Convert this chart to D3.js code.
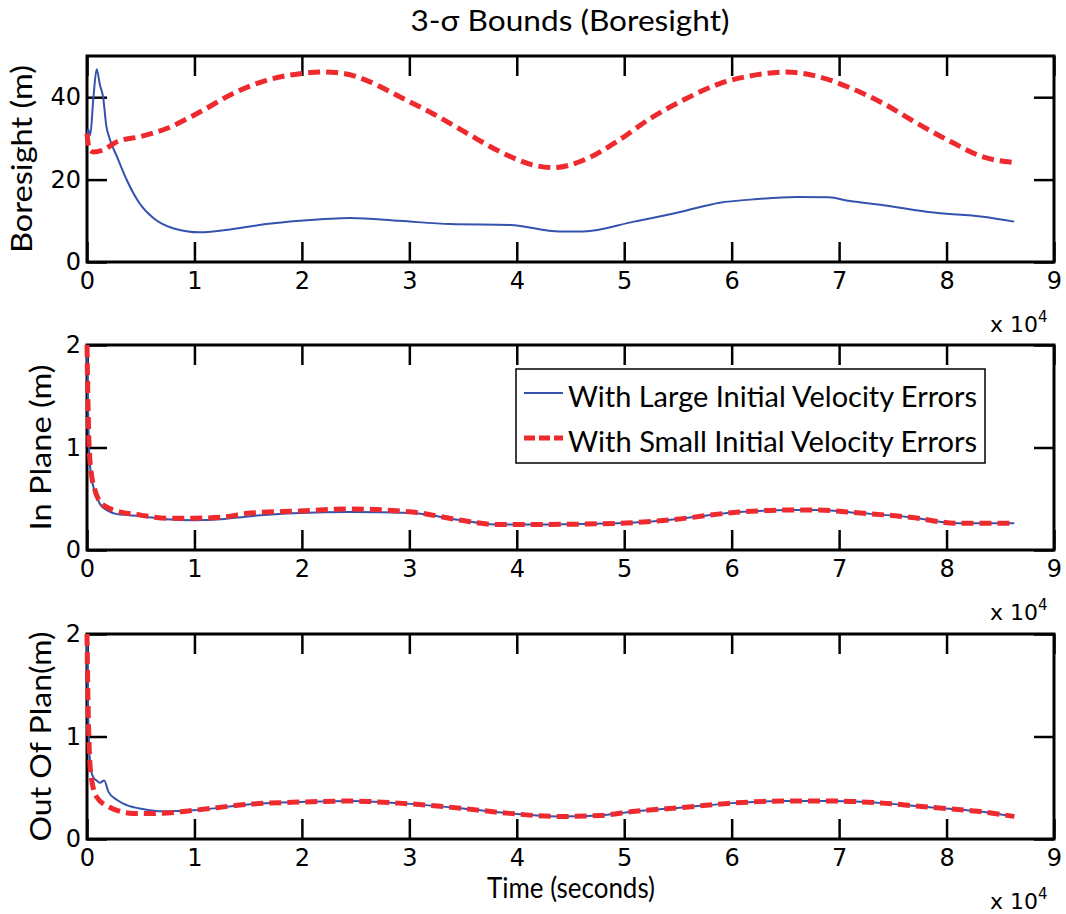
<!DOCTYPE html>
<html><head><meta charset="utf-8">
<script src="https://cdn.jsdelivr.net/npm/d3@7"></script>
<style>body{margin:0;background:#fff}</style>
</head><body>
<svg id="c" width="1066" height="914"></svg>
<script>
// ---- data (time in units of 1e4 seconds) ----
const xTickValues = [0,1,2,3,4,5,6,7,8,9];
const titleText = "3-\u03c3 Bounds (Boresight)";
const xLabelText = "Time (seconds)";
const seriesNames = ["With Large Initial Velocity Errors", "With Small Initial Velocity Errors"];

const boreLargeT = [0,0.01,0.03,0.06,0.09,0.12,0.15,0.18,0.21,0.28,0.37,0.49,0.62,0.8,1.05,1.36,1.67,1.98,2.45,2.91,3.38,3.94,4.4,4.62,5.09,5.5,5.89,6.2,6.6,6.9,7.1,7.41,7.88,8.34,8.63];
const boreLargeV = [30.4,32.2,30.8,40,46.8,43,40,33,30,25.5,19.9,14.2,10.6,8.2,7.2,8.0,9.2,10.0,10.7,10.0,9.2,9.0,7.4,7.4,9.8,12,14.4,15.2,15.8,15.7,14.8,13.8,12.0,11.0,9.8];
const boreSmallT = [0,0.02,0.06,0.15,0.28,0.49,0.74,1.05,1.36,1.67,1.98,2.2,2.4,2.6,2.91,3.22,3.54,3.85,4.16,4.34,4.62,4.93,5.24,5.55,5.89,6.2,6.51,6.79,7.1,7.41,7.73,8.04,8.34,8.61];
const boreSmallV = [31.2,27.5,26.7,27.2,29.2,30.4,32.4,36.4,40.9,44.1,45.7,46.1,45.7,44.1,40.1,36.0,31.2,26.7,23.5,22.9,24.7,29.2,34.8,39.3,43.3,45.3,46.1,45.1,42.3,38.5,33.6,29.2,25.5,24.2];

const inPlaneT = [0,0.01,0.02,0.04,0.07,0.12,0.2,0.28,0.5,0.74,0.99,1.25,1.52,1.98,2.44,3.03,3.48,3.8,4.3,4.93,5.39,6.07,6.53,6.8,7.2,7.66,8.11,8.63];
const inPlaneLargeV = [2.0,1.4,0.95,0.72,0.58,0.45,0.38,0.35,0.33,0.30,0.29,0.30,0.33,0.36,0.37,0.36,0.29,0.25,0.25,0.26,0.29,0.37,0.39,0.39,0.36,0.32,0.26,0.26];
const inPlaneSmallV = [2.0,1.4,1.0,0.75,0.6,0.47,0.41,0.38,0.34,0.31,0.31,0.32,0.36,0.38,0.40,0.37,0.29,0.25,0.25,0.26,0.29,0.37,0.39,0.39,0.36,0.32,0.26,0.26];

const outPlaneLargeT = [0,0.01,0.02,0.04,0.06,0.09,0.12,0.16,0.2,0.28,0.37,0.53,0.7,0.99,1.52,1.98,2.44,2.9,3.48,3.93,4.38,4.78,5.1,5.57,6.0,6.48,6.95,7.4,7.84,8.29,8.63];
const outPlaneLargeV = [2.0,1.3,0.9,0.66,0.6,0.57,0.55,0.57,0.46,0.38,0.33,0.29,0.27,0.28,0.34,0.36,0.37,0.35,0.30,0.25,0.22,0.23,0.27,0.31,0.35,0.37,0.37,0.35,0.31,0.27,0.22];
const outPlaneSmallT = [0,0.01,0.02,0.04,0.09,0.21,0.43,0.68,0.99,1.52,1.98,2.44,2.9,3.48,3.93,4.38,4.78,5.1,5.57,6.0,6.48,6.95,7.4,7.84,8.29,8.63];
const outPlaneSmallV = [2.0,1.3,0.9,0.6,0.41,0.31,0.25,0.25,0.28,0.34,0.36,0.37,0.35,0.30,0.25,0.22,0.23,0.27,0.31,0.35,0.37,0.37,0.35,0.31,0.27,0.22];

const panelLabels = ["Boresight (m)", "In Plane (m)", "Out Of Plan(m)"];
const panelYMax = [50, 2, 2];
const panelYTicks = [[0,20,40],[0,1,2],[0,1,2]];

// ---- layout ----
const LEFT = 87, RIGHT = 1054;
const panelBox = [[56,262],[345,550],[634,839]];
const blue = "#3452ae", red = "#ee2a2e";
const labelFont = "Lato, 'Open Sans', sans-serif";
const tickFont = "'DejaVu Sans', sans-serif";

const svg = d3.select("#c");
const x = d3.scaleLinear().domain([0,9]).range([LEFT, RIGHT]);

const panels = [
  {large: boreLargeT.map((t,i)=>[t,boreLargeV[i]]), small: boreSmallT.map((t,i)=>[t,boreSmallV[i]]), labelX: 32, labelLen: 188},
  {large: inPlaneT.map((t,i)=>[t,inPlaneLargeV[i]]), small: inPlaneT.map((t,i)=>[t,inPlaneSmallV[i]]), labelX: 51, labelLen: 166},
  {large: outPlaneLargeT.map((t,i)=>[t,outPlaneLargeV[i]]), small: outPlaneSmallT.map((t,i)=>[t,outPlaneSmallV[i]]), labelX: 51, labelLen: 210}
];

panels.forEach((p, k) => {
  const [top, bottom] = panelBox[k];
  const y = d3.scaleLinear().domain([0, panelYMax[k]]).range([bottom, top]);
  const g = svg.append("g");

  const styleAxis = sel => {
    sel.select(".domain").remove();
    sel.selectAll(".tick line").attr("stroke", "#000").attr("stroke-width", 2.5);
    sel.selectAll(".tick text").attr("font-family", tickFont).attr("font-size", 24).attr("fill", "#000");
  };

  g.append("g").attr("transform", `translate(0,${bottom})`)
    .call(d3.axisBottom(x).tickValues(xTickValues).tickFormat(d3.format("d")).tickSize(-20).tickPadding(10))
    .call(styleAxis);
  g.append("g").attr("transform", `translate(0,${top})`)
    .call(d3.axisTop(x).tickValues(xTickValues).tickFormat("").tickSize(-20))
    .call(styleAxis);
  g.append("g").attr("transform", `translate(${LEFT},0)`)
    .call(d3.axisLeft(y).tickValues(panelYTicks[k]).tickFormat(d3.format("d")).tickSize(-20).tickPadding(6))
    .call(styleAxis);
  g.append("g").attr("transform", `translate(${RIGHT},0)`)
    .call(d3.axisRight(y).tickValues(panelYTicks[k]).tickFormat("").tickSize(-20))
    .call(styleAxis);

  g.append("rect").attr("x", LEFT).attr("y", top).attr("width", RIGHT-LEFT).attr("height", bottom-top)
    .attr("fill", "none").attr("stroke", "#000").attr("stroke-width", 3);

  const line = d3.line().x(d => x(d[0])).y(d => y(d[1])).curve(d3.curveMonotoneX);
  g.append("path").datum(p.large).attr("d", line).attr("fill", "none")
    .attr("stroke", blue).attr("stroke-width", 2);
  g.append("path").datum(p.small).attr("d", line).attr("fill", "none")
    .attr("stroke", red).attr("stroke-width", 5).attr("stroke-dasharray", "12,6");

  // y label
  const cy = (top + bottom) / 2;
  g.append("text").attr("transform", `translate(${p.labelX},${cy}) rotate(-90)`)
    .attr("text-anchor", "middle").attr("font-family", labelFont).attr("font-size", 29)
    .attr("textLength", p.labelLen).attr("lengthAdjust", "spacingAndGlyphs")
    .text(panelLabels[k]);

  // x 10^4
  const ex = g.append("text").attr("x", 990).attr("y", bottom + 70)
    .attr("font-family", tickFont).attr("font-size", 22).attr("fill", "#000");
  ex.append("tspan").text("x 10");
  ex.append("tspan").attr("font-size", 15).attr("dy", -10).text("4");
});

// title
svg.append("text").attr("x", 570).attr("y", 31).attr("text-anchor", "middle")
  .attr("font-family", labelFont).attr("font-size", 28)
  .attr("textLength", 319).attr("lengthAdjust", "spacingAndGlyphs").text(titleText);

// x label
svg.append("text").attr("x", 571).attr("y", 898).attr("text-anchor", "middle")
  .attr("font-family", labelFont).attr("font-size", 28)
  .attr("textLength", 168).attr("lengthAdjust", "spacingAndGlyphs").text(xLabelText);

// legend in panel 2
const lg = svg.append("g");
lg.append("rect").attr("x", 516).attr("y", 369).attr("width", 469).attr("height", 94)
  .attr("fill", "#fff").attr("stroke", "#000").attr("stroke-width", 1.5);
const legendItems = [{name: seriesNames[0], color: blue, w: 2, dash: null, y: 393},
                     {name: seriesNames[1], color: red, w: 5, dash: "11,4", y: 438}];
legendItems.forEach(it => {
  lg.append("line").attr("x1", 524).attr("x2", 563).attr("y1", it.y).attr("y2", it.y)
    .attr("stroke", it.color).attr("stroke-width", it.w).attr("stroke-dasharray", it.dash);
  lg.append("text").attr("x", 568).attr("y", it.y + 14)
    .attr("font-family", labelFont).attr("font-size", 29)
    .attr("textLength", 409).attr("lengthAdjust", "spacingAndGlyphs").text(it.name);
});
</script>
</body></html>
